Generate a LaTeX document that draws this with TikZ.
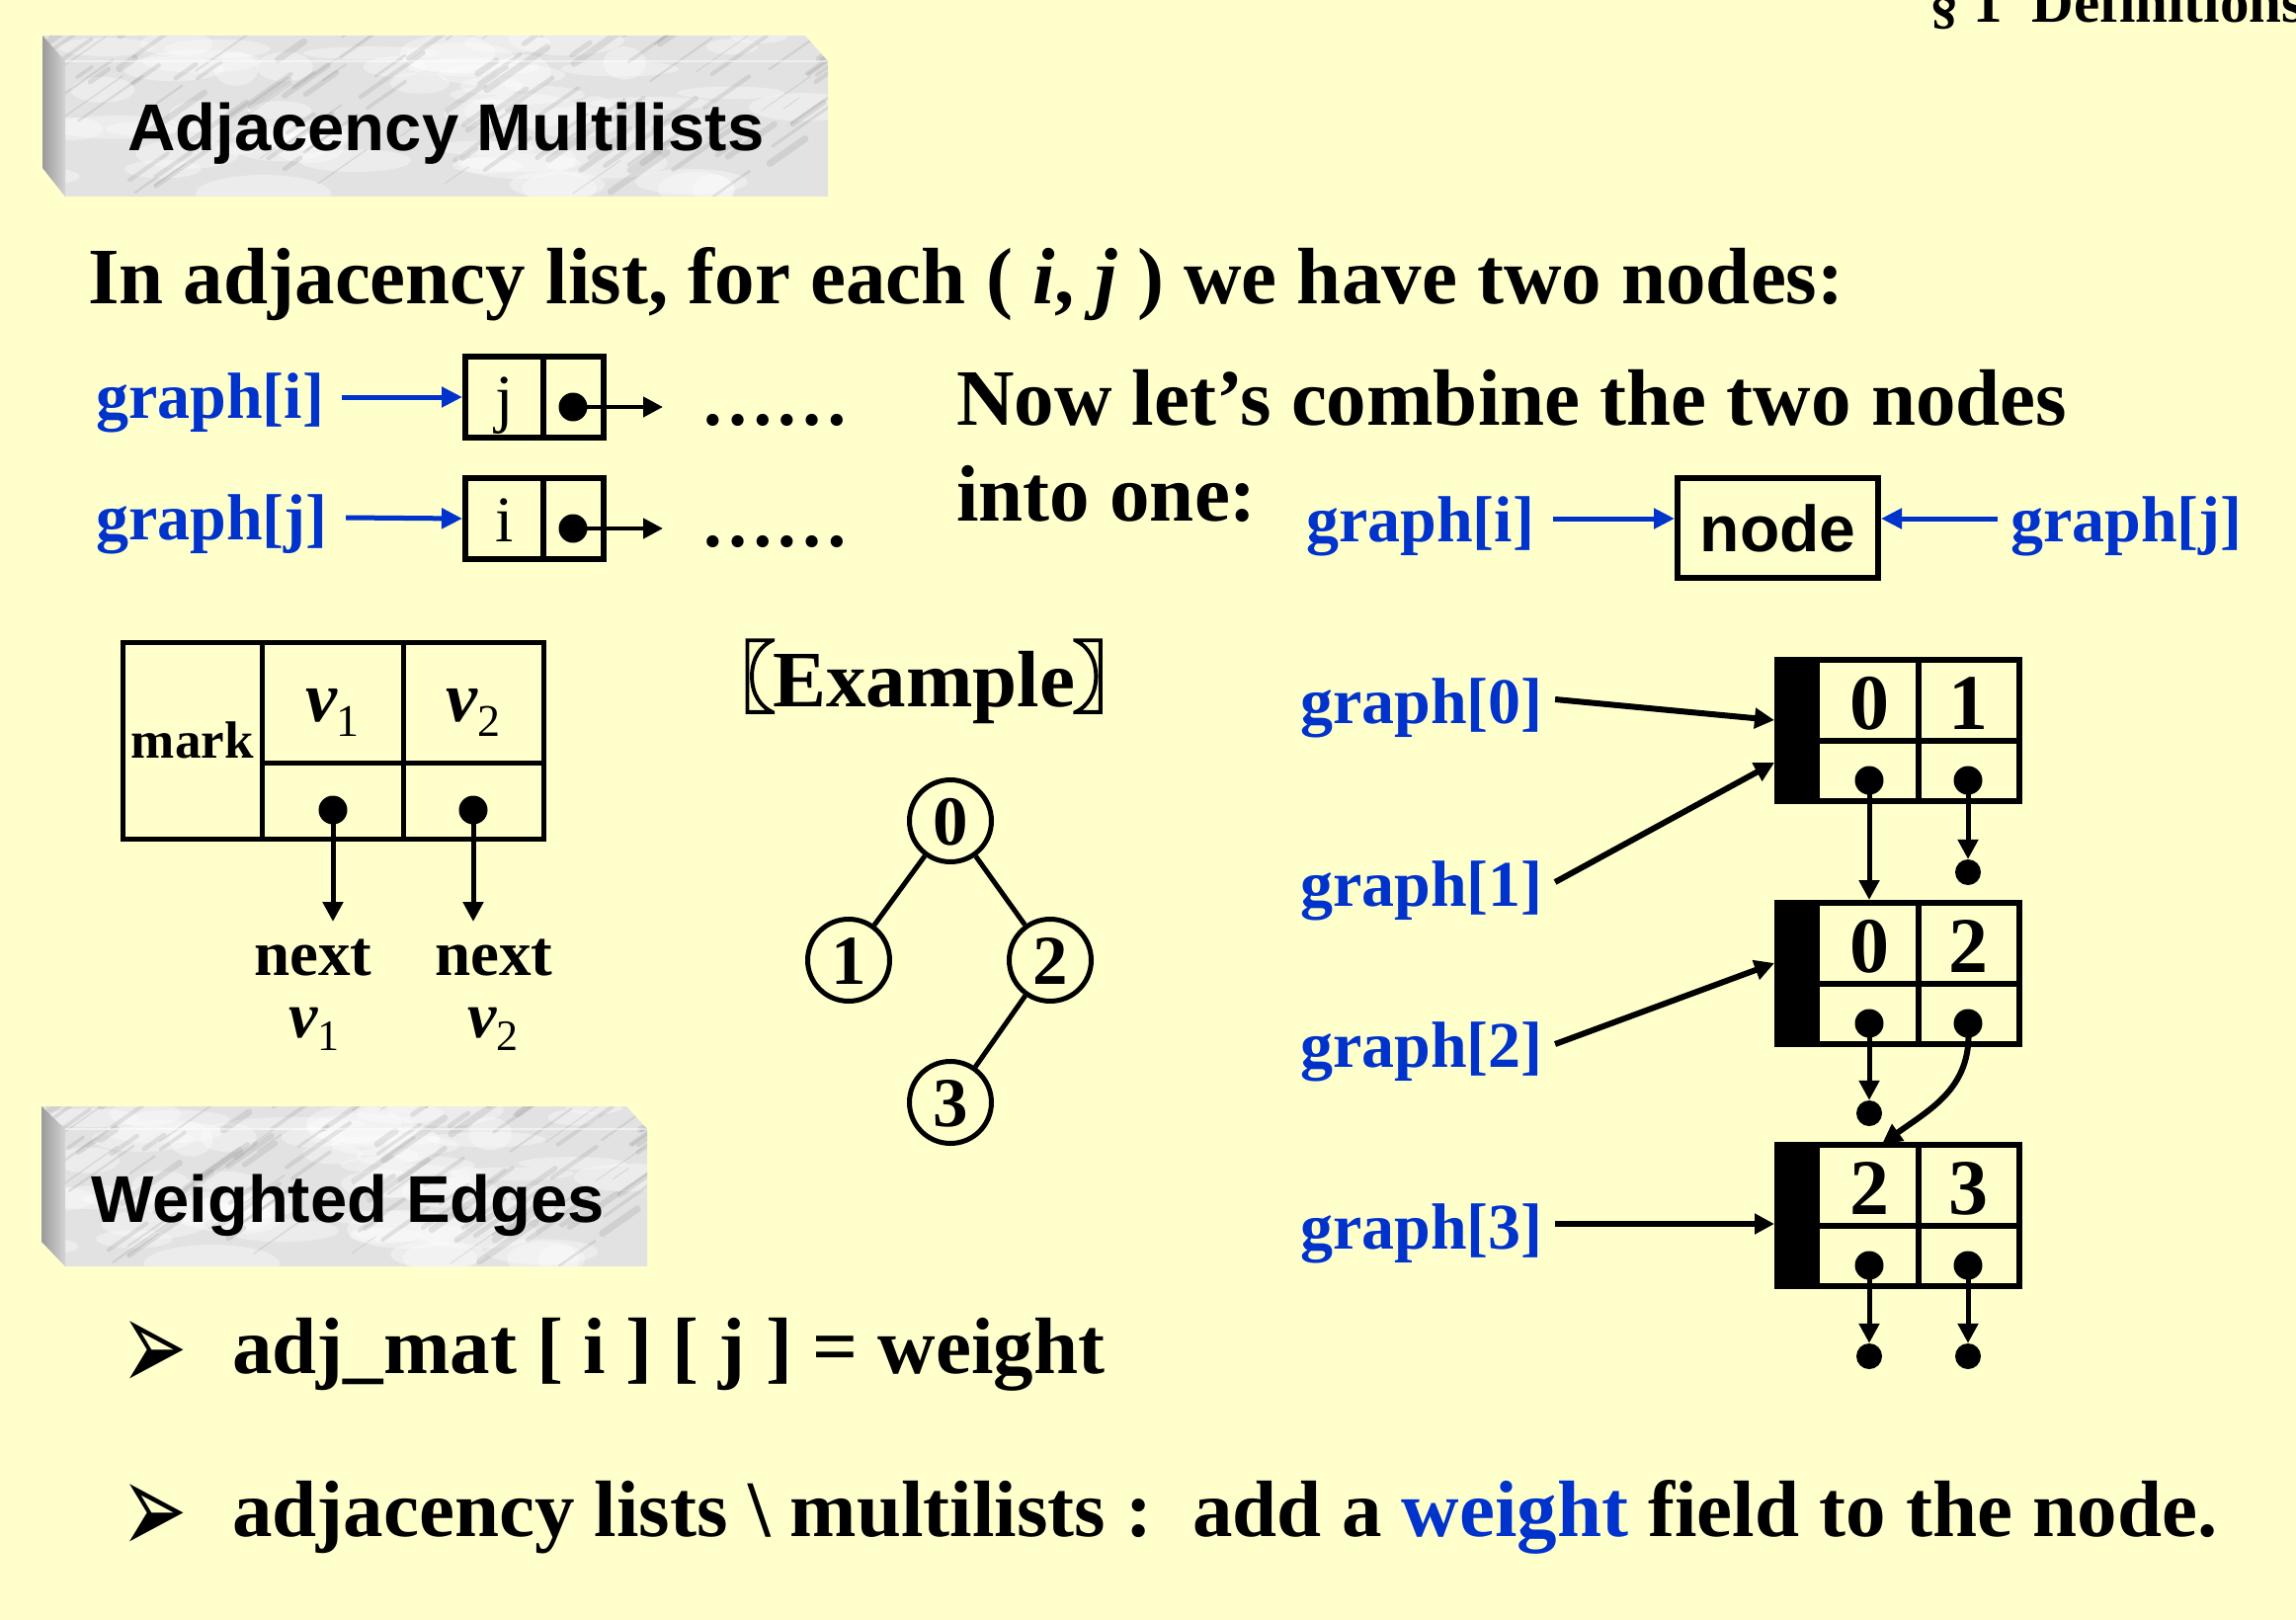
\documentclass[tikz,border=0pt]{standalone}
\usepackage{fontspec}
\setmainfont{Liberation Serif}
\newfontfamily\arialfont{Liberation Sans}
\newfontfamily\dejavufont{DejaVu Sans}
\newfontfamily\cjkfont[FakeBold=2.5]{Noto Sans CJK SC}
\usetikzlibrary{arrows.meta,calc}
\definecolor{bgyellow}{RGB}{255,255,204}
\definecolor{linkblue}{RGB}{0,51,204}
\definecolor{marble}{RGB}{226,226,226}
\definecolor{marbledark}{RGB}{155,155,155}
\newcommand\fsz[1]{\fontsize{#1}{#1}\selectfont}
\newcommand\mlnode[5]{%
  \begin{scope}[shift={(#2,#3)}]
    \node[draw, line width=6pt, inner sep=0pt, minimum width=245pt, minimum height=143pt, anchor=north west] (#1) at (0,0) {};
    \fill (0,0) rectangle (46,149);
    \draw[line width=6pt] (146,0) -- (146,149);
    \draw[line width=6pt] (46,85) -- (251,85);
    \node[digit] (#1-a) at (96,73) {#4};
    \node[digit] (#1-b) at (196,73) {#5};
    \node[dotn] (#1-pa) at (96,125) {};
    \node[dotn] (#1-pb) at (196,125) {};
  \end{scope}}
\newcommand\vsub[3]{{\bfseries\itshape v}\raisebox{#2}{\mdseries\upshape\fsz{#3}#1}}
\begin{document}
\begin{tikzpicture}[x=1pt,y=-1pt,
  txt/.style={inner sep=0pt, anchor=base west},
  maintxt/.style={txt, font=\fsz{81}\bfseries},
  lbl/.style={txt, text=linkblue, font=\fsz{66}\bfseries},
  headtxt/.style={txt, font=\fsz{67}\arialfont\bfseries},
  blueptr/.style={draw=linkblue, line width=5pt, -{Triangle[length=21pt,width=20pt]}},
  ptr/.style={draw=black, line width=5pt, -{Triangle[length=20pt,width=20pt]}},
  cellbox/.style={draw, line width=6pt, inner sep=0pt, minimum height=82pt, text height=46pt, text depth=0pt, font=\fsz{66}},
  scell/.style={draw, line width=5pt, inner sep=0pt},
  dotn/.style={circle, fill=black, inner sep=0pt, minimum size=29pt},
  enddot/.style={circle, fill=black, inner sep=0pt, minimum size=26pt},
  digit/.style={inner sep=0pt, anchor=base, font=\fsz{80}\bfseries},
  vcirc/.style={circle, draw, line width=5pt, inner sep=0pt, minimum size=83pt, text height=48pt, text depth=0pt, font=\fsz{71}\bfseries},
  treeline/.style={line width=5pt},
  bullet/.style={txt, font=\fsz{70}\dejavufont}
]
\useasboundingbox (0,0) rectangle (2324,1640);
\fill[bgyellow] (0,0) rectangle (2324,1640);

% ---------- marble title blocks ----------
\foreach \xl/\xf/\xr/\xc/\yt/\yb/\yc/\yd in {43/66/838/815/36/199/62/170, 42/66/655/634/1120/1282/1143/1257}{
  \fill[marble] (\xl,\yt) -- (\xc,\yt) -- (\xr,\yc) -- (\xr,\yb) -- (\xf,\yb) -- (\xl,\yd) -- cycle;
  \begin{scope}
    \clip (\xl,\yt) -- (\xc,\yt) -- (\xr,\yc) -- (\xr,\yb) -- (\xf,\yb) -- (\xl,\yd) -- cycle;
    \pgfmathsetseed{11}
    \foreach \k in {1,...,60}{
      \pgfmathsetmacro\xa{\xl+rnd*(\xr-\xl)}
      \pgfmathsetmacro\ya{\yt+rnd*(\yb-\yt)}
      \pgfmathsetmacro\rw{20+rnd*50}
      \pgfmathsetmacro\rh{6+rnd*14}
      \fill[white, opacity=0.35] (\xa,\ya) ellipse [x radius=\rw, y radius=\rh];
    }
    \foreach \k in {1,...,110}{
      \pgfmathsetmacro\xa{\xl+rnd*(\xr-\xl)}
      \pgfmathsetmacro\ya{\yt+rnd*(\yb-\yt)}
      \pgfmathsetmacro\ln{15+rnd*55}
      \pgfmathsetmacro\lw{1+rnd*6}
      \draw[gray, opacity=0.18, line width=\lw pt, line cap=round] (\xa,\ya) -- ++(\ln,-0.7*\ln);
    }
    \draw[white, opacity=0.5, line width=1.5pt] (\xf,\yc) -- (\xr,\yc);
  \end{scope}
  \shade[left color=marbledark, right color=marble!85!gray] (\xl,\yt) -- (\xf,\yc) -- (\xf,\yb) -- (\xl,\yd) -- cycle;
}
\node[headtxt] (title1) at (129,153) {Adjacency Multilists};
\node[headtxt] (title2) at (92,1237) {Weighted Edges};

% ---------- section header (cut off at the top edge, as in the slide) ----------
\node[txt, font=\fsz{59}\bfseries] (sec) at (1953,23) {§ 1\hspace{30pt}Definitions};

% ---------- heading ----------
\node[maintxt] (head) at (89,307) {In adjacency list, for each ( {\itshape i}, {\itshape j} ) we have two nodes:};

% ---------- two adjacency-list nodes ----------
\node[lbl] (gi) at (97,423) {graph[i]};
\node[cellbox, minimum width=79pt] (cj) at (510.5,402) {j};
\node[cellbox, minimum width=61pt] (cjp) at (580.5,402) {};
\node[dotn] (pj) at (580,412) {};
\coordinate (ej) at (671,412);
\draw[blueptr] ($(gi.base east)+(18,-21)$) -- (cj.west);
\draw[ptr, line width=4.5pt] (pj.center) -- (ej);
\node[txt, font=\fsz{75}\bfseries] (dotsj) at (709,430) {……};

\node[lbl] (gj) at (97,546) {graph[j]};
\node[cellbox, minimum width=79pt] (ci) at (510.5,525) {i};
\node[cellbox, minimum width=61pt] (cip) at (580.5,525) {};
\node[dotn] (pi) at (580,535) {};
\coordinate (ei) at (671,535);
\draw[blueptr] ($(gj.base east)+(18,-22)$) -- (ci.west);
\draw[ptr, line width=4.5pt] (pi.center) -- (ei);
\node[txt, font=\fsz{75}\bfseries] (dotsi) at (709,553) {……};

% ---------- combine ----------
\node[maintxt] (now) at (968,430) {Now let’s combine the two nodes};
\node[maintxt] (into) at (968,527) {into one:};
\node[lbl] (gi2) at (1322,548) {graph[i]};
\node[draw, line width=6pt, inner sep=0pt, minimum width=203pt, minimum height=101pt, font=\fsz{66}\arialfont\bfseries] (nd) at (1799.5,534.5) {node};
\node[lbl] (gj2) at (2035,548) {graph[j]};
\draw[blueptr] ($(gi2.base east)+(19,-23)$) -- ($(nd.west)+(0,-9.5)$);
\draw[blueptr] ($(gj2.base west)+(-13,-23)$) -- ($(nd.east)+(0,-9.5)$);

% ---------- multilist node structure ----------
\node[scell, minimum width=140.5pt, minimum height=199pt, font=\fsz{53}\bfseries, text height=34pt, text depth=0pt] (mk) at (194.75,750) {mark};
\node[scell, minimum width=143pt, minimum height=121.5pt, font=\fsz{72}, text height=37.5pt, text depth=0pt] (v1t) at (336.5,711.25) {\vsub{1}{-15pt}{46}};
\node[scell, minimum width=142.5pt, minimum height=121.5pt, font=\fsz{72}, text height=37.5pt, text depth=0pt] (v2t) at (479.25,711.25) {\vsub{2}{-15pt}{46}};
\node[scell, minimum width=143pt, minimum height=77.5pt] (v1b) at (336.5,810.75) {};
\node[scell, minimum width=142.5pt, minimum height=77.5pt] (v2b) at (479.25,810.75) {};
\node[dotn] (d1) at (337,820) {};
\node[dotn] (d2) at (479,820) {};
\coordinate (e1) at (337,933);
\coordinate (e2) at (479,933);
\draw[ptr] (d1.center) -- (e1);
\draw[ptr] (d2.center) -- (e2);
\node[txt, font=\fsz{65}\bfseries] (nx1) at (257,987) {next};
\node[txt, font=\fsz{65}\bfseries] (nx2) at (440,987) {next};
\node[txt, font=\fsz{66}] (nv1) at (292,1050) {\vsub{1}{-13pt}{44}};
\node[txt, font=\fsz{66}] (nv2) at (473,1050) {\vsub{2}{-13pt}{44}};

% ---------- example graph ----------
\node[maintxt] (ex) at (782,715) {Example};
\node[anchor=base east, inner sep=0pt, font=\fsz{80}\cjkfont] (exl) at ($(ex.base west)+(4,0)$) {〖};
\node[anchor=base west, inner sep=0pt, font=\fsz{80}\cjkfont] (exr) at ($(ex.base east)+(-4,0)$) {〗};
\node[vcirc] (c0) at (962,831) {0};
\node[vcirc] (c1) at (859,972) {1};
\node[vcirc] (c2) at (1063,972) {2};
\node[vcirc] (c3) at (962,1116) {3};
\draw[treeline] (c0) -- (c1);
\draw[treeline] (c0) -- (c2);
\draw[treeline] (c2) -- (c3);

% ---------- multilist example ----------
\mlnode{r0}{1796}{665}{0}{1}
\mlnode{r1}{1796}{911}{0}{2}
\mlnode{r2}{1796}{1156}{2}{3}
\node[enddot] (t0) at (1992,883) {};
\node[enddot] (t1) at (1892,1127) {};
\node[enddot] (t2a) at (1892,1373) {};
\node[enddot] (t2b) at (1992,1373) {};
\draw[ptr] (r0-pa.center) -- (r0-pa.center |- r1.north);
\draw[ptr] (r0-pb.center) -- (t0.north);
\draw[ptr] (r1-pa.center) -- (t1.north);
\draw[ptr, line width=6pt] (r1-pb.center) .. controls (1998,1100) and (1955,1122) .. ($(r2.north west)+(109,2)$);
\draw[ptr] (r2-pa.center) -- (t2a.north);
\draw[ptr] (r2-pb.center) -- (t2b.north);

\node[lbl] (g0) at (1316,732) {graph[0]};
\node[lbl] (g1) at (1316,917) {graph[1]};
\node[lbl] (g2) at (1316,1080) {graph[2]};
\node[lbl] (g3) at (1316,1264) {graph[3]};
\draw[ptr, line width=6pt] ($(g0.base east)+(12,-24)$) -- ($(r0.north west)+(0,64)$);
\draw[ptr, line width=6pt] ($(g1.base east)+(12,-24)$) -- ($(r0.north west)+(0,107)$);
\draw[ptr, line width=6pt] ($(g2.base east)+(12,-23)$) -- ($(r1.north west)+(0,64)$);
\draw[ptr, line width=6pt] ($(g3.base east)+(12,-25)$) -- ($(r2.north west)+(0,83)$);

% ---------- bullets ----------
\node[bullet] (b1) at (122,1408) {\scalebox{1.15}[1.9]{➢}};
\node[maintxt] (bt1) at (235,1390) {adj\_mat [ i ] [ j ] = weight};
\node[bullet] (b2) at (122,1573) {\scalebox{1.15}[1.9]{➢}};
\node[maintxt] (bt2) at (235,1555) {adjacency lists \textbackslash\ multilists :\ \ add a \textcolor{linkblue}{weight} field to the node.};
\end{tikzpicture}
\end{document}
